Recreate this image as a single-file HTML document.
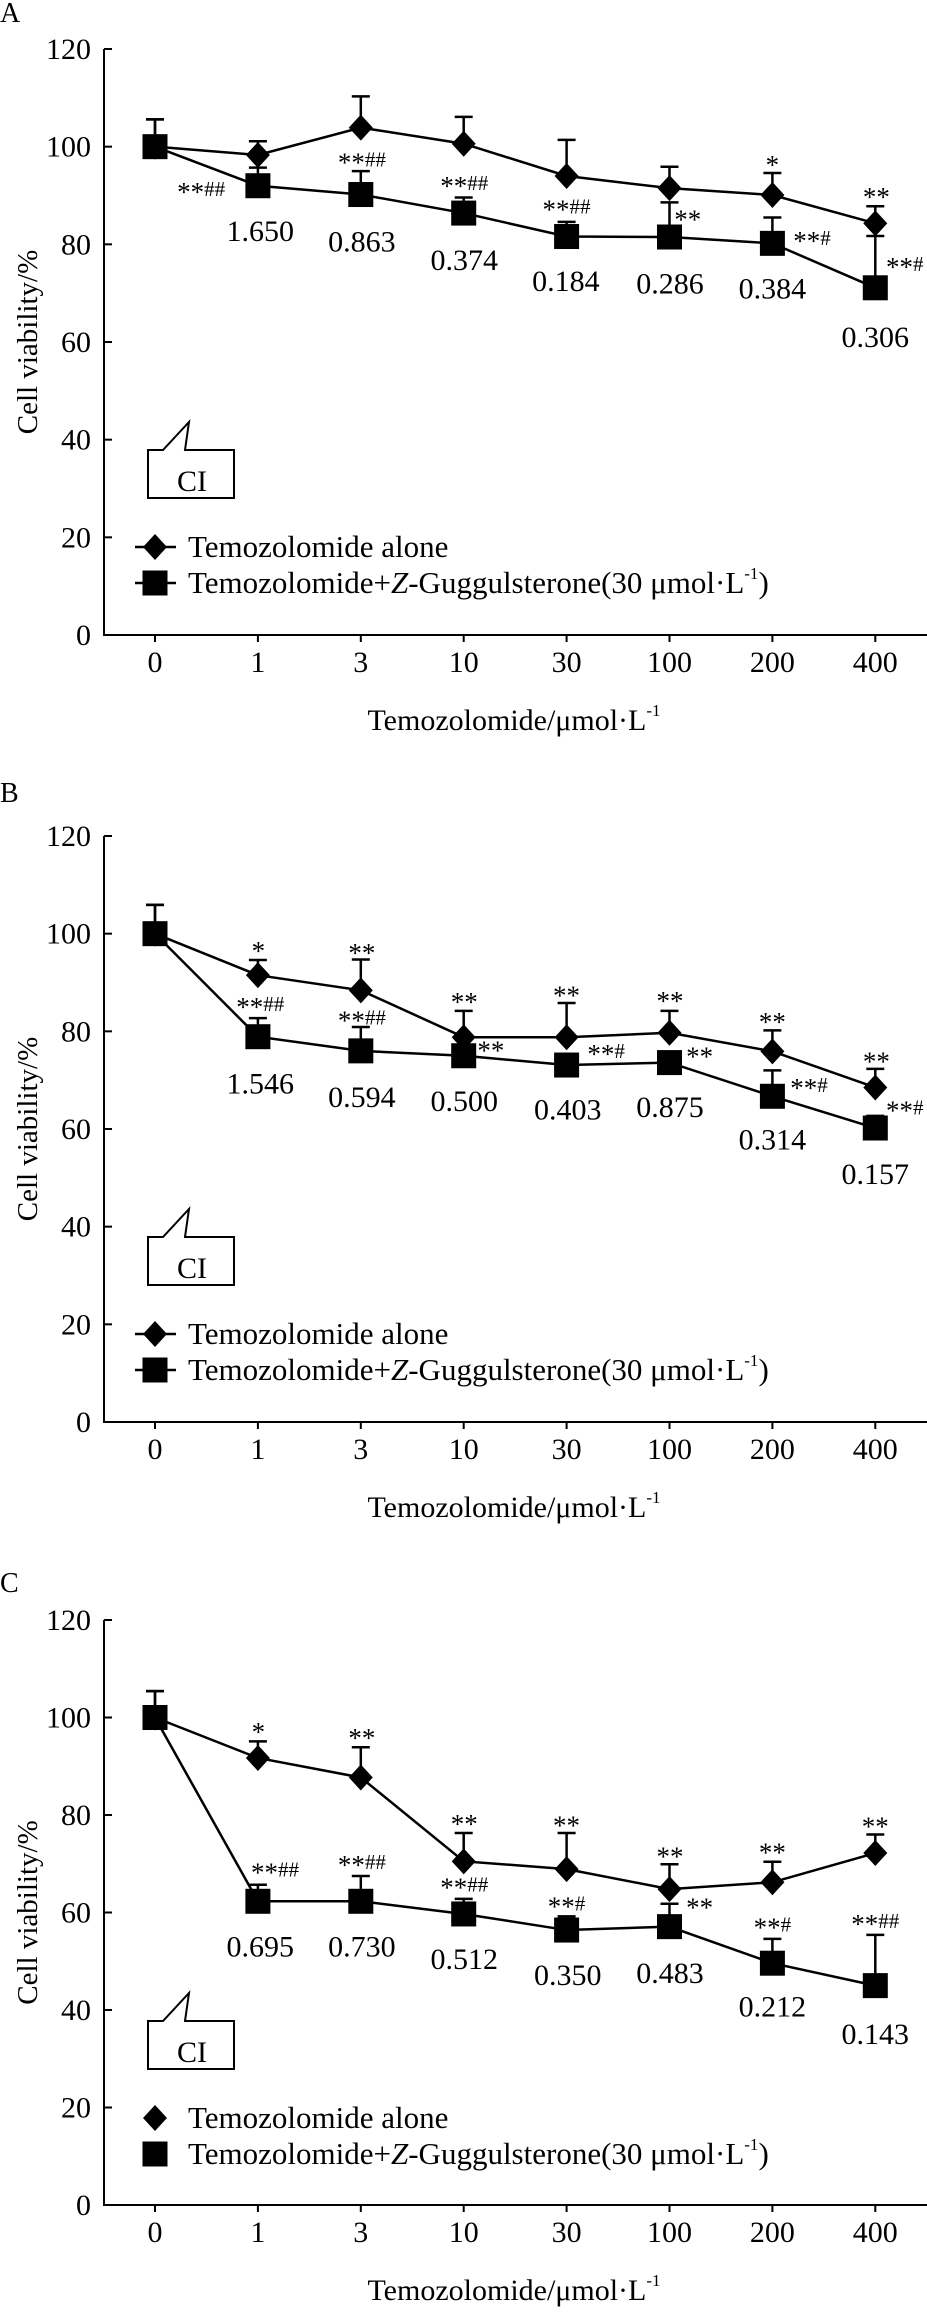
<!DOCTYPE html>
<html><head><meta charset="utf-8"><style>
html,body{margin:0;padding:0;background:#fff;}
svg{display:block;font-family:"Liberation Serif","Times New Roman",serif;}
</style></head><body>
<svg id="chart" width="927" height="2315" viewBox="0 0 927 2315" xmlns="http://www.w3.org/2000/svg"></svg>
<script>
const categories = ["0","1","3","10","30","100","200","400"];
const yTicks = [0,20,40,60,80,100,120];
const panelLetters = ["A","B","C"];
const aloneA = [100,98.3,103.9,100.6,94.0,91.5,90.1,84.3];
const aloneErrA = [105.6,101.1,110.3,106.1,101.4,95.9,94.6,87.8];
const comboA = [100,92.0,90.2,86.4,81.6,81.5,80.2,71.1];
const comboErrA = [105.6,95.7,95.0,89.6,84.6,88.6,85.5,81.7];
const aloneB = [100,91.5,88.4,78.8,78.8,79.7,75.9,68.5];
const aloneErrB = [105.9,94.6,94.7,84.2,85.8,84.2,80.2,72.3];
const comboB = [100,78.9,76.0,75.0,73.1,73.6,66.7,60.2];
const comboErrB = [105.9,82.7,80.9,76.5,74.9,74.9,72.0,62.7];
const aloneC = [100,91.7,87.7,70.5,68.9,64.8,66.2,72.2];
const aloneErrC = [105.4,95.1,93.9,76.3,76.3,69.9,70.4,76.0];
const comboC = [100,62.3,62.3,59.7,56.4,57.1,49.6,45.0];
const comboErrC = [105.4,65.7,67.5,62.8,59.2,61.8,54.6,55.4];
const ciA = ["1.650","0.863","0.374","0.184","0.286","0.384","0.306"];
const ciB = ["1.546","0.594","0.500","0.403","0.875","0.314","0.157"];
const ciC = ["0.695","0.730","0.512","0.350","0.483","0.212","0.143"];

const NS="http://www.w3.org/2000/svg";
const svg=document.getElementById('chart');
function mk(tag,attrs,parent){const e=document.createElementNS(NS,tag);for(const k in attrs)e.setAttribute(k,attrs[k]);(parent||svg).appendChild(e);return e;}

const panels=[
 {top:49,bot:635,off:0,letterY:22,alone:aloneA,aloneErr:aloneErrA,combo:comboA,comboErr:comboErrA,ci:ciA,legendLines:true,
  ciPos:[[440,462],[612,483],[785,520],[957,563],[1133,568],[1306,578],[1480,675]],
  stars:[["**","##",340,380],["**","##",612,320],["**","##",785,368],["**","##",958,415],["**","",1163,435],["*","",1306,325],["**","#",1373,478],["**","",1482,390],["**","#",1530,530]]},
 {top:836,bot:1422,off:770,letterY:802,alone:aloneB,aloneErr:aloneErrB,combo:comboB,comboErr:comboErrB,ci:ciB,legendLines:true,
  ciPos:[[440,628],[612,655],[785,663],[960,680],[1133,675],[1306,740],[1480,810]],
  stars:[["*","",437,358],["**","",612,362],["**","##",440,470],["**","##",612,497],["**","",785,460],["**","",830,557],["**","",958,447],["**","#",1025,565],["**","",1133,458],["**","",1183,570],["**","",1306,500],["**","#",1368,633],["**","",1482,580],["**","#",1530,678]]},
 {top:1620,bot:2205,off:1535,letterY:1592,alone:aloneC,aloneErr:aloneErrC,combo:comboC,comboErr:comboErrC,ci:ciC,legendLines:false,
  ciPos:[[440,825],[612,825],[785,850],[960,882],[1133,878],[1306,945],[1480,1000]],
  stars:[["*","",437,390],["**","",612,402],["**","##",465,672],["**","##",612,657],["**","",785,575],["**","##",785,702],["**","",958,578],["**","#",958,740],["**","",1133,640],["**","",1183,742],["**","",1306,632],["**","#",1306,783],["**","",1480,580],["**","##",1480,775]]}
];

const AXX=104;
function xs(i){return 155+102.9*i;}

panels.forEach((p,pi)=>{
  const g=mk('g',{});
  
  
  const ys=v=>p.bot-(v/120)*(p.bot-p.top);
  const L=mk('text',{x:0,y:p.letterY,'font-size':28},g);L.textContent=panelLetters[pi];
  
  
  const ya=mk('line',{x1:AXX,y1:p.top,x2:AXX,y2:p.bot,stroke:'#000','stroke-width':2},g);
  
  
  const xa=mk('line',{x1:AXX-1,y1:p.bot,x2:927,y2:p.bot,stroke:'#000','stroke-width':2},g);
  
  
  yTicks.forEach(t=>{
    const y=ys(t);
    mk('line',{x1:AXX,y1:y,x2:AXX+8,y2:y,stroke:'#000','stroke-width':2},g);
    const tx=mk('text',{x:91,y:y+10,'font-size':30,'text-anchor':'end'},g);tx.textContent=t;
    
    
  });
  categories.forEach((c,i)=>{
    const x=xs(i);
    mk('line',{x1:x,y1:p.bot,x2:x,y2:p.bot+7,stroke:'#000','stroke-width':2},g);
    const tx=mk('text',{x:x,y:p.bot+37,'font-size':30,'text-anchor':'middle'},g);tx.textContent=c;
    
    
  });
  const yt=mk('text',{x:0,y:0,'font-size':29,'text-anchor':'middle',transform:`translate(37,${(p.top+p.bot)/2}) rotate(-90)`},g);
  yt.textContent='Cell viability/%';
  
  
  const xt=mk('text',{x:514,y:p.bot+95,'font-size':30,'text-anchor':'middle'},g);
  xt.innerHTML='Temozolomide/μmol·L<tspan dy="-14" font-size="17">-1</tspan>';
  
  
  function series(vals,errs,kind){
    const sg=mk('g',{},g);
    
    
    vals.forEach((v,i)=>{
      const x=xs(i);
      mk('line',{x1:x,y1:ys(v),x2:x,y2:ys(errs[i]),stroke:'#000','stroke-width':2.5},sg);
      mk('line',{x1:x-9,y1:ys(errs[i]),x2:x+9,y2:ys(errs[i]),stroke:'#000','stroke-width':2.5},sg);
    });
    const pts=vals.map((v,i)=>xs(i)+','+ys(v)).join(' ');
    const pl=mk('polyline',{points:pts,fill:'none',stroke:'#000','stroke-width':2.5},sg);
    
    
    vals.forEach((v,i)=>{
      const x=xs(i),y=ys(v);let m;
      if(kind==='d') m=mk('polygon',{points:`${x},${y-13} ${x+12},${y} ${x},${y+13} ${x-12},${y}`,fill:'#000'},sg);
      else m=mk('rect',{x:x-12.5,y:y-12.5,width:25,height:25,fill:'#000'},sg);
      
      
    });
  }
  series(p.alone,p.aloneErr,'d');
  series(p.combo,p.comboErr,'s');
  p.ci.forEach((c,i)=>{
    const [zx,zy]=p.ciPos[i];
    const t=mk('text',{x:zx/1.691,y:zy/2.009+p.off+11,'font-size':30,'text-anchor':'middle'},g);
    t.textContent=c;
    
    
  });
  p.stars.forEach(s=>{
    const t=mk('text',{x:s[2]/1.691,y:s[3]/2.009+p.off+12,'font-size':27,'text-anchor':'middle'},g);
    t.innerHTML=s[0]+(s[1]?'<tspan font-size="21" dy="-5">'+s[1]+'</tspan>':'');
    
    
  });
  const cy=p.top+401;
  const cb=mk('path',{d:`M148,${cy} L163,${cy} L189,${cy-28} L185,${cy} L234,${cy} L234,${cy+48} L148,${cy+48} Z`,fill:'#fff',stroke:'#000','stroke-width':2},g);
  
  
  const ct=mk('text',{x:192,y:cy+41,'font-size':30,'text-anchor':'middle'},g);ct.textContent='CI';
  
  
  const ly1=p.top+498, ly2=p.top+534;
  [[ly1,'d','Temozolomide alone'],[ly2,'s',null]].forEach(([ly,k,txt])=>{
    const lg=mk('g',{},g);
    
    
    if(p.legendLines) mk('line',{x1:135,y1:ly,x2:176,y2:ly,stroke:'#000','stroke-width':2.5},lg);
    if(k==='d') mk('polygon',{points:`155,${ly-13} 167,${ly} 155,${ly+13} 143,${ly}`,fill:'#000'},lg);
    else mk('rect',{x:142.5,y:ly-12.5,width:25,height:25,fill:'#000'},lg);
    const t=mk('text',{x:188,y:ly+10,'font-size':31},lg);
    if(txt) t.textContent=txt;
    else t.innerHTML='Temozolomide+<tspan font-style="italic">Z</tspan>-Guggulsterone(30 μmol·L<tspan dy="-14" font-size="17">-1</tspan><tspan dy="14">)</tspan>';
  });
});
</script>
</body></html>
